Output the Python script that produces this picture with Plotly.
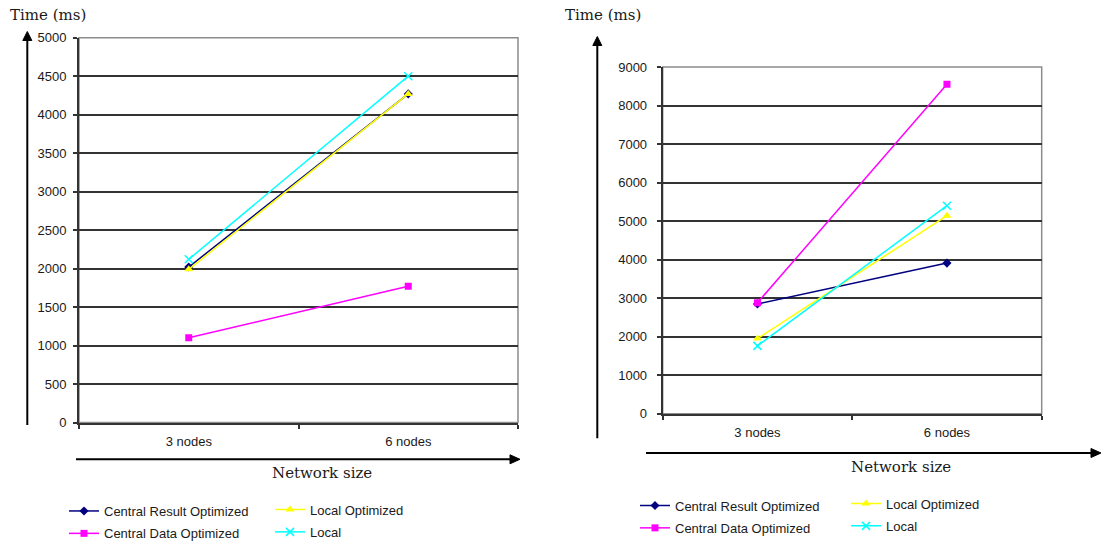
import plotly.graph_objects as go

# ---- data -------------------------------------------------------------
categories = ["3 nodes", "6 nodes"]
series_names = ["Central Result Optimized", "Central Data Optimized",
                "Local Optimized", "Local"]

# left panel (ms)
left_central_result = [2020, 4270]
left_central_data = [1100, 1770]
left_local_optimized = [1990, 4270]
left_local = [2120, 4500]

# right panel (ms)
right_central_result = [2850, 3910]
right_central_data = [2880, 8550]
right_local_optimized = [1950, 5140]
right_local = [1760, 5400]

left_y_ticks = list(range(0, 5001, 500))
right_y_ticks = list(range(0, 9001, 1000))

# ---- styling ----------------------------------------------------------
W, H = 1105, 543
SANS = "Liberation Sans, Arial, sans-serif"
SERIF = "DejaVu Serif, serif"
TXT = "#1a1a1a"
GRID = "#333333"

styles = {
    "Central Result Optimized": dict(color="#000080", symbol="diamond", size=7),
    "Central Data Optimized": dict(color="#ff00ff", symbol="square", size=7),
    "Local Optimized": dict(color="#ffff00", symbol="triangle-up", size=8),
    "Local": dict(color="#00ffff", symbol="x-thin", size=8),
}


def px(x):
    return x / W


def py(y):
    return 1 - y / H


fig = go.Figure()

panels = [
    ("x", "y", [left_central_result, left_central_data, left_local_optimized, left_local],
     ["legend", "legend", "legend2", "legend2"]),
    ("x2", "y2", [right_central_result, right_central_data, right_local_optimized, right_local],
     ["legend3", "legend3", "legend4", "legend4"]),
]

for xa, ya, values, legends in panels:
    for name, vals, lg in zip(series_names, values, legends):
        st = styles[name]
        marker = dict(color=st["color"], symbol=st["symbol"], size=st["size"])
        if st["symbol"] == "x-thin":
            marker["line"] = dict(color=st["color"], width=1.5)
        fig.add_trace(go.Scatter(
            x=categories, y=vals, name=name, mode="lines+markers",
            line=dict(color=st["color"], width=1.5), marker=marker,
            xaxis=xa, yaxis=ya, legend=lg, legendgroup=xa + name,
        ))

axis_common = dict(showline=True, linecolor=GRID, linewidth=2,
                   ticks="outside", ticklen=4, tickwidth=1.5, tickcolor=GRID,
                   tickfont=dict(family=SANS, size=13, color=TXT),
                   automargin=False)

x_common = dict(axis_common, type="category", range=[-0.5, 1.5],
                tickson="boundaries", showgrid=False, ticklabelstandoff=6)

left_dom_x = [px(79), px(518)]
left_dom_y = [py(422.5), py(37.7)]
right_dom_x = [px(662.7), px(1041.7)]
right_dom_y = [py(413.7), py(67)]

fig.update_layout(
    width=W, height=H,
    margin=dict(l=0, r=0, t=0, b=0, autoexpand=False),
    paper_bgcolor="white", plot_bgcolor="white",
    xaxis=dict(x_common, domain=left_dom_x, anchor="y"),
    yaxis=dict(axis_common, domain=left_dom_y, anchor="x", range=[0, 5000],
               tickvals=left_y_ticks, showgrid=True, gridcolor=GRID, gridwidth=2,
               zeroline=False, ticklabelstandoff=4),
    xaxis2=dict(x_common, domain=right_dom_x, anchor="y2"),
    yaxis2=dict(axis_common, domain=right_dom_y, anchor="x2", range=[0, 9000],
                tickvals=right_y_ticks, showgrid=True, gridcolor=GRID, gridwidth=2,
                zeroline=False, ticklabelstandoff=7),
)

legend_common = dict(orientation="v", bgcolor="rgba(0,0,0,0)", borderwidth=0,
                     font=dict(family=SANS, size=13, color=TXT),
                     xanchor="left", yanchor="top", tracegroupgap=2.5,
                     itemwidth=30)
fig.update_layout(
    legend=dict(legend_common, x=px(64), y=py(496)),
    legend2=dict(legend_common, x=px(270), y=py(494.5)),
    legend3=dict(legend_common, x=px(635), y=py(490.5)),
    legend4=dict(legend_common, x=px(846), y=py(488.5)),
)

# plot-area frame (top and right edges are lighter)
shapes = []
for xr, yr in (("x domain", "y domain"), ("x2 domain", "y2 domain")):
    shapes.append(dict(type="rect", xref=xr, yref=yr, x0=0, x1=1, y0=0, y1=1,
                       line=dict(color="#8c8c8c", width=1.5), layer="below"))


def arrow(x0, y0, x1, y1):
    """Axis arrow drawn in pixel space from (x0, y0) to tip (x1, y1)."""
    out = []
    if x0 == x1:  # vertical, pointing up
        base = y1 + 9
        out.append(dict(type="line", xref="paper", yref="paper",
                        x0=px(x0), y0=py(y0), x1=px(x1), y1=py(base),
                        line=dict(color="black", width=2)))
        path = (f"M {px(x1)} {py(y1)} L {px(x1 - 4.5)} {py(base)} "
                f"L {px(x1 + 4.5)} {py(base)} Z")
    else:  # horizontal, pointing right
        base = x1 - 10
        out.append(dict(type="line", xref="paper", yref="paper",
                        x0=px(x0), y0=py(y0), x1=px(base), y1=py(y1),
                        line=dict(color="black", width=2)))
        path = (f"M {px(x1)} {py(y1)} L {px(base)} {py(y1 - 4.5)} "
                f"L {px(base)} {py(y1 + 4.5)} Z")
    out.append(dict(type="path", xref="paper", yref="paper", path=path,
                    fillcolor="black", line=dict(color="black", width=1)))
    return out


shapes += arrow(27.3, 425, 27.3, 31.5)
shapes += arrow(76, 459.3, 520, 459.3)
shapes += arrow(597.3, 438.3, 597.3, 36.5)
shapes += arrow(646, 453, 1101, 453)
fig.update_layout(shapes=shapes)

annotations = [
    dict(text="Time (ms)", x=px(48), y=py(15)),
    dict(text="Time (ms)", x=px(603), y=py(15)),
    dict(text="Network size", x=px(322), y=py(472.7)),
    dict(text="Network size", x=px(900.5), y=py(467.3)),
]
for a in annotations:
    a.update(xref="paper", yref="paper", showarrow=False, xanchor="center",
             yanchor="middle", font=dict(family=SERIF, size=15, color=TXT))
fig.update_layout(annotations=annotations)

fig.write_html("out.html")
